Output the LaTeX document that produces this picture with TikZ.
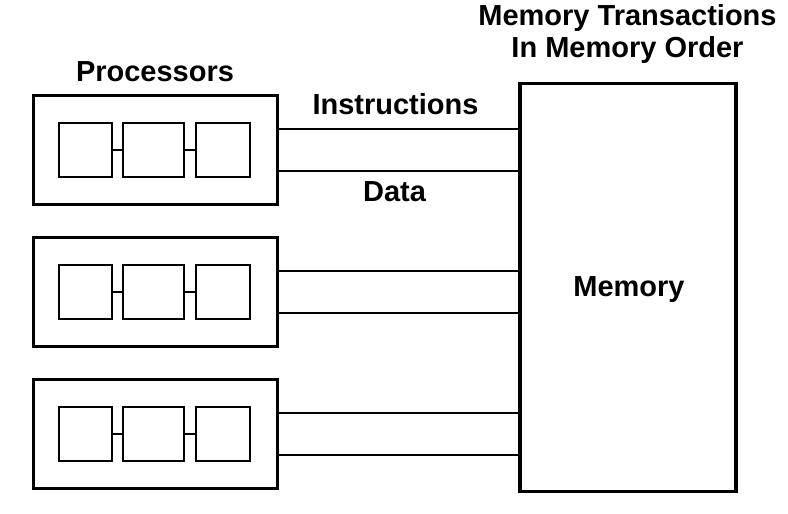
\documentclass[tikz,border=0pt]{standalone}
\usepackage{fontspec}
\setmainfont{Liberation Sans}
\begin{document}
\begin{tikzpicture}[x=1pt,y=-1pt,
  procbox/.style={draw,line width=3pt,minimum width=244pt,minimum height=109pt,inner sep=0pt,outer sep=0pt},
  unitbox/.style={draw,line width=1.8pt,minimum height=54pt,inner sep=0pt,outer sep=0pt},
  membox/.style={draw,line width=3.5pt,minimum width=216pt,minimum height=408pt,inner sep=0pt,outer sep=0pt},
  lbl/.style={font=\bfseries\fontsize{29}{32}\selectfont,anchor=base,inner sep=0pt},
  bus/.style={line width=1.5pt},
  link/.style={line width=1.8pt}]
\useasboundingbox (0,0) rectangle (788,514);
\node[membox] (mem) at (628,287.5) {};
\node[lbl] (memlbl) at (629,296) {Memory};
\node[lbl] (t1) at (627.5,25) {Memory Transactions};
\node[lbl] (t2) at (627.5,57) {In Memory Order};
\node[lbl] (plbl) at (155,81) {Processors};
\node[lbl] (ilbl) at (395.5,114) {Instructions};
\node[lbl] (dlbl) at (394.5,201) {Data};
\foreach \i/\y in {1/150,2/292,3/434}{
  \node[procbox] (p\i) at (155,\y) {};
  \node[unitbox,minimum width=53pt] (a\i) at (85.5,\y) {};
  \node[unitbox,minimum width=61pt] (b\i) at (153.5,\y) {};
  \node[unitbox,minimum width=54pt] (c\i) at (223,\y) {};
  \draw[link] (a\i) -- (b\i);
  \draw[link] (b\i) -- (c\i);
  \coordinate (u\i) at ([yshift=21pt]p\i.east);
  \coordinate (d\i) at ([yshift=-21pt]p\i.east);
  \draw[bus] (u\i) -- (u\i -| mem.west);
  \draw[bus] (d\i) -- (d\i -| mem.west);
}
\end{tikzpicture}
\end{document}
